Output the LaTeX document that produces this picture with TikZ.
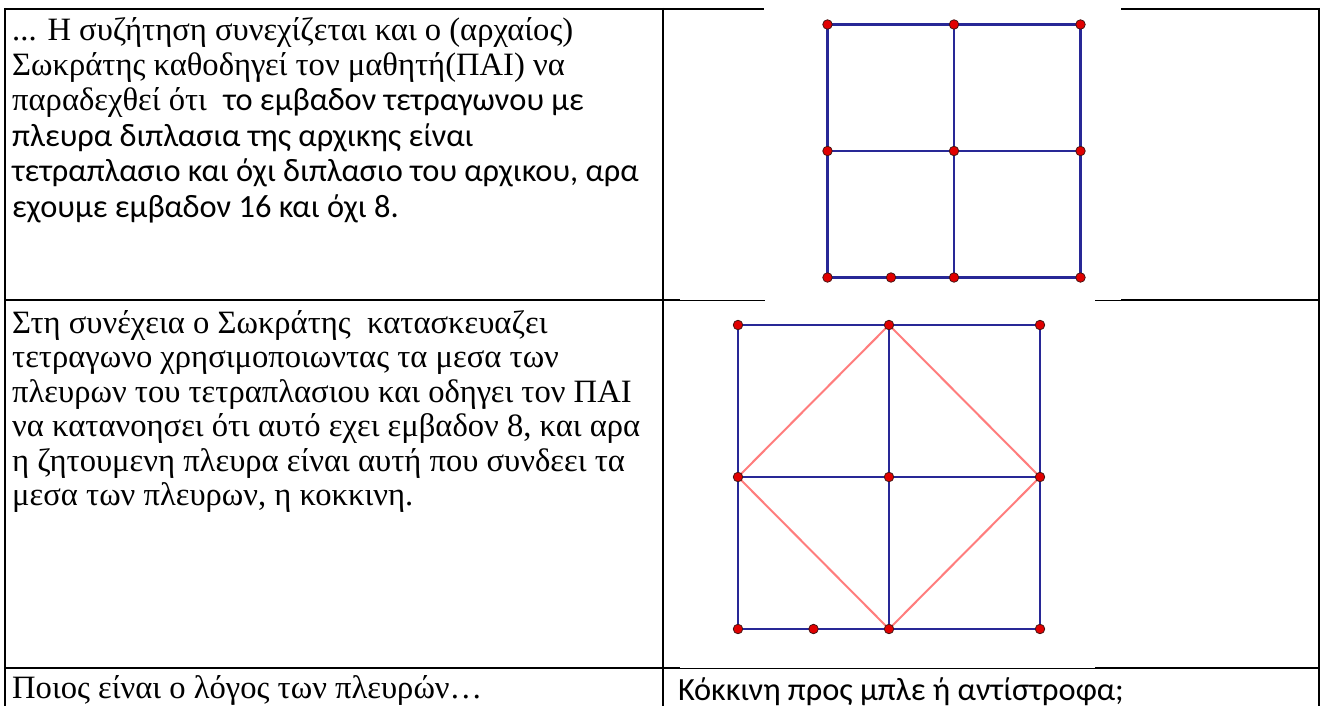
\documentclass[tikz,border=0pt]{standalone}
\usepackage{fontspec}
\setmainfont{Liberation Serif}
\newfontfamily\calibrifont{Carlito}
\newcommand\timesfs{\fontsize{32.6}{34}\selectfont}
\newcommand\califs{\calibrifont\fontsize{32.4}{34}\selectfont}
\definecolor{geoblue}{RGB}{40,40,150}
\definecolor{geored}{RGB}{255,125,125}
\definecolor{ptred}{RGB}{225,0,0}
\definecolor{ptdark}{RGB}{70,20,20}
\begin{document}
\begin{tikzpicture}[x=1pt,y=-1pt,
  border/.style={line width=2pt,draw=black},
  thinborder/.style={line width=1pt,draw=black},
  blueline/.style={line width=2.4pt,draw=geoblue},
  redline/.style={line width=2pt,draw=geored},
  gpt/.style={circle,fill=ptred,draw=ptdark,line width=0.8pt,minimum size=9.5pt,inner sep=0pt},
  tline/.style={anchor=base west,inner sep=0pt,font=\timesfs},
  cline/.style={anchor=base west,inner sep=0pt,font=\califs}]
\useasboundingbox (0,0) rectangle (1320,706);
\fill[white] (0,0) rectangle (1320,706);
% table borders
\draw[border] (4,9) -- (764,9);
\draw[border] (1121,9) -- (1320,9);
\draw[border] (5,8) -- (5,706);
\draw[border] (663,8) -- (663,706);
\draw[border] (1319,8) -- (1319,706);
\draw[border] (5,300) -- (680,300);
\draw[thinborder] (680,300) -- (765,300);
\draw[thinborder] (1095,300) -- (1121,300);
\draw[border] (1121,300) -- (1319,300);
\draw[border] (5,668) -- (680,668);
\draw[thinborder] (680,668) -- (1095,668);
\draw[border] (1095,668) -- (1319,668);
% row 1 text
\node[tline] (r1a) at (12,41) {... Η συζήτηση συνεχίζεται και ο (αρχαίος)};
\node[tline] (r1b) at (12,76) {Σωκράτης καθοδηγεί τον μαθητή(ΠΑΙ) να};
\node[tline] (r1c) at (12,111) {παραδεχθεί ότι\ \ {\califs το εμβαδον τετραγωνου με}};
\node[cline] (r1d) at (12,146.5) {πλευρα διπλασια της αρχικης είναι};
\node[cline] (r1e) at (12,182) {τετραπλασιο και όχι διπλασιο του αρχικου, αρα};
\node[cline] (r1f) at (12,217) {εχουμε εμβαδον 16 και όχι 8.};
% row 2 text
\node[tline] (r2a) at (12,333) {Στη συνέχεια ο Σωκράτης\ \ κατασκευαζει};
\node[tline] (r2b) at (12,367.5) {τετραγωνο χρησιμοποιωντας τα μεσα των};
\node[tline] (r2c) at (12,402) {πλευρων του τετραπλασιου και οδηγει τον ΠΑΙ};
\node[tline] (r2d) at (12,436.5) {να κατανοησει ότι αυτό εχει εμβαδον 8, και αρα};
\node[tline] (r2e) at (12,471) {η ζητουμενη πλευρα είναι αυτή που συνδεει τα};
\node[tline] (r2f) at (12,505.5) {μεσα των πλευρων, η κοκκινη.};
% row 3 text
\node[tline] (r3a) at (12,698) {Ποιος είναι ο λόγος των πλευρών…};
\node[cline] (r3b) at (678,700) {Κόκκινη προς μπλε ή αντίστροφα;};
% figure 1
\foreach \i/\x in {0/827.5,1/954,2/1080.5}{
  \foreach \j/\y in {0/24.5,1/151,2/277.5}{
    \coordinate (p\i\j) at (\x,\y);
  }
}
\coordinate (pe) at (891,277.5);
\draw[blueline] (p00) -- (p20) (p01) -- (p21) (p02) -- (p22)
  (p00) -- (p02) (p10) -- (p12) (p20) -- (p22);
\foreach \n in {p00,p10,p20,p01,p11,p21,p02,p12,p22,pe}{
  \node[gpt] (d\n) at (\n) {};
}
% figure 2
\foreach \i/\x in {0/738,1/889,2/1040}{
  \foreach \j/\y in {0/325,1/477,2/629}{
    \coordinate (q\i\j) at (\x,\y);
  }
}
\coordinate (qe) at (813.5,629);
\draw[blueline] (q00) -- (q20) (q01) -- (q21) (q02) -- (q22)
  (q00) -- (q02) (q10) -- (q12) (q20) -- (q22);
\draw[redline] (q10) -- (q21) -- (q12) -- (q01) -- cycle;
\foreach \n in {q00,q10,q20,q01,q11,q21,q02,q12,q22,qe}{
  \node[gpt] (d\n) at (\n) {};
}
\end{tikzpicture}
\end{document}
